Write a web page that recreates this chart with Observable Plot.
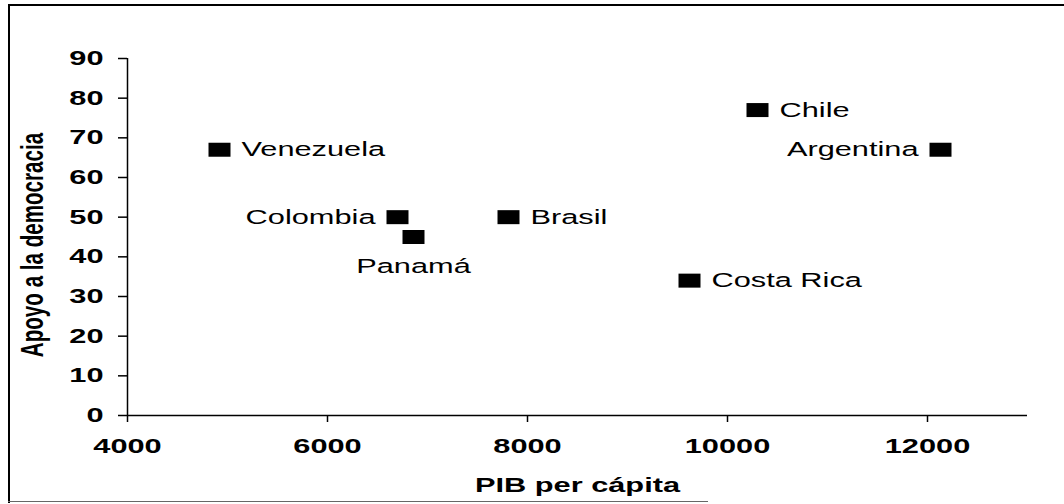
<!DOCTYPE html>
<html><head><meta charset="utf-8">
<script src="https://cdn.jsdelivr.net/npm/d3@7"></script>
<script src="https://cdn.jsdelivr.net/npm/@observablehq/plot@0.6"></script>
<style>
body{margin:0;background:#fff;}
#wrap{position:relative;width:1064px;height:504px;overflow:hidden;background:#fff;}
#wrap svg{position:absolute;left:0;top:0;}
.frame{position:absolute;background:#000;z-index:2;}
</style></head><body>
<div id="wrap"></div>
<script>
const countries = ["Venezuela", "Colombia", "Panamá", "Brasil", "Costa Rica", "Chile", "Argentina"];
const gdp = [4920, 6700, 6860, 7810, 9620, 10300, 12130];
const support = [67, 50, 45, 50, 34, 77, 67];
const labelSide = ["right", "left", "below", "right", "right", "right", "left"];
const xTicks = [4000, 6000, 8000, 10000, 12000];
const yTicks = [0, 10, 20, 30, 40, 50, 60, 70, 80, 90];
const xTitle = "PIB per cápita";
const yTitle = "Apoyo a la democracia";

const data = countries.map((c, i) => ({country: c, gdp: gdp[i], support: support[i], side: labelSide[i]}));

const rectSymbol = {draw(ctx) { ctx.rect(-11, -7, 22, 14); }};
const font = "'Liberation Sans', Arial, sans-serif";

const plot = Plot.plot({
  width: 1064, height: 504,
  marginLeft: 127, marginRight: 37, marginTop: 58, marginBottom: 89,
  style: {fontFamily: font, fontSize: "20.5px", color: "#000", background: "transparent"},
  x: {domain: [4000, 13000]},
  y: {domain: [0, 90]},
  marks: [
    Plot.axisX({ticks: xTicks, tickSize: 7, tickPadding: 16, label: null, tickFormat: d => String(d), strokeWidth: 1.5}),
    Plot.axisY({ticks: yTicks, tickSize: 9, tickPadding: 15, label: null, tickFormat: d => String(d), strokeWidth: 1.5}),
    Plot.ruleY([0], {stroke: "#000", strokeWidth: 1.5}),
    Plot.ruleX([4000], {stroke: "#000", strokeWidth: 1.5}),
    Plot.dot(data, {x: "gdp", y: "support", symbol: rectSymbol, fill: "#000", stroke: null}),
    Plot.text(data.filter(d => d.side === "right"), {x: "gdp", y: "support", text: "country", textAnchor: "start", dx: 22, fill: "#000"}),
    Plot.text(data.filter(d => d.side === "left"), {x: "gdp", y: "support", text: "country", textAnchor: "end", dx: -22, fill: "#000"}),
    Plot.text(data.filter(d => d.side === "below"), {x: "gdp", y: "support", text: "country", textAnchor: "middle", dy: 29, fill: "#000"}),
    Plot.text([xTitle], {frameAnchor: "bottom", textAnchor: "middle", dy: 76, fontWeight: "bold", fill: "#000"}),
    Plot.text([yTitle], {frameAnchor: "left", textAnchor: "middle", rotate: -90, dx: -94, dy: 8, fontWeight: "bold", fontSize: 20.6, fill: "#000"})
  ]
});

const wrap = document.getElementById("wrap");
wrap.append(plot);
for (const [l, t, w, h, c] of [[8, 4, 2, 499, "#000"], [8, 4, 1056, 2, "#000"], [8, 501, 700, 1, "#666"]]) {
  const d = document.createElement("div");
  d.className = "frame";
  d.style.cssText = `left:${l}px;top:${t}px;width:${w}px;height:${h}px;background:${c}`;
  wrap.append(d);
}

plot.querySelectorAll('g[aria-label="x-axis tick label"], g[aria-label="y-axis tick label"]').forEach(g => g.setAttribute("font-weight", "bold"));

plot.querySelectorAll("text").forEach(t => {
  if (t.textContent === yTitle) {
    t.setAttribute("text-anchor", "middle");
    const tr = t.getAttribute("transform") || "";
    t.setAttribute("transform", tr + " scale(1,1.5)");
    return;
  }
  const w = t.getComputedTextLength();
  t.setAttribute("textLength", (w * 1.5).toFixed(1));
  t.setAttribute("lengthAdjust", "spacingAndGlyphs");
});
</script>
</body></html>
